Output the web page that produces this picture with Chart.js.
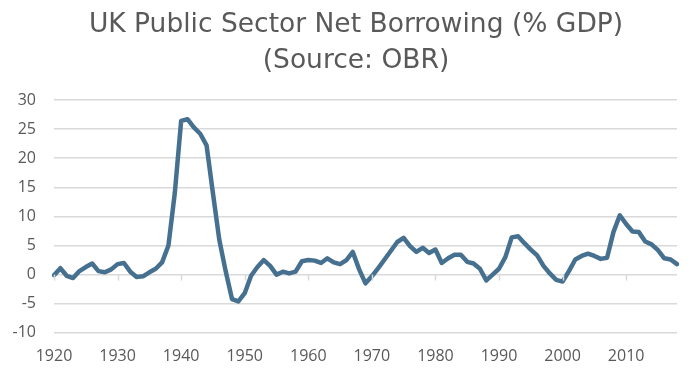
<!DOCTYPE html>
<html>
<head>
<meta charset="utf-8">
<script src="https://cdn.jsdelivr.net/npm/chart.js@4"></script>
<style>
  html, body { margin: 0; padding: 0; background: #ffffff; }
  #wrap { width: 699px; height: 382px; }
</style>
</head>
<body>
<div id="wrap"><canvas id="psnbChart" width="699" height="382"></canvas></div>
<script>
/**chart title lines */
const TITLE = ["UK Public Sector Net Borrowing (% GDP)", "(Source: OBR)"];
/**years on the category axis */
const years = [];
for (let y = 1920; y <= 2018; y++) years.push(String(y));
/**public sector net borrowing, % of GDP */
const borrowing = [
    -0.1, 1.1, -0.2, -0.6, 0.6, 1.3, 1.9, 0.6, 0.4, 0.9,      // 1920s
    1.8, 2.0, 0.5, -0.4, -0.3, 0.4, 1.0, 2.1, 5.0, 14.0,      // 1930s
    26.4, 26.7, 25.3, 24.2, 22.2, 14.0, 6.0, 0.6, -4.2, -4.6, // 1940s
    -3.2, -0.2, 1.3, 2.5, 1.5, 0.0, 0.5, 0.2, 0.5, 2.3,       // 1950s
    2.5, 2.4, 2.0, 2.8, 2.1, 1.8, 2.5, 3.9, 0.9, -1.5,        // 1960s
    -0.3, 1.1, 2.6, 4.1, 5.6, 6.3, 4.9, 3.9, 4.6, 3.7,        // 1970s
    4.3, 2.0, 2.8, 3.4, 3.4, 2.2, 1.9, 1.0, -1.0, 0.0,        // 1980s
    1.0, 3.0, 6.4, 6.6, 5.4, 4.3, 3.3, 1.5, 0.2, -0.9,        // 1990s
    -1.2, 0.6, 2.6, 3.2, 3.6, 3.2, 2.7, 2.9, 7.3, 10.2,       // 2000s
    8.7, 7.4, 7.3, 5.7, 5.2, 4.2, 2.8, 2.6, 1.8               // 2010s
];
/**value axis range */
const Y_MIN = -10;
const Y_MAX = 30;
const Y_STEP = 5;
/**label every n-th year */
const LABEL_EVERY = 10;

const FONT = "'Open Sans', Lato, sans-serif";
const TITLE_FONT = "'DejaVu Sans', 'Open Sans', sans-serif";
const TEXT_COLOR = "#595959";
const GRID_COLOR = "#d9d9d9";
const LINE_COLOR = "#46708f";

/**
 * draw the two title lines; the chart title box can't be moved off-centre,
 * and the original sits a little right of the canvas middle
 */
const titleLines = {
    id: "titleLines",
    afterDraw(chart) {
        const c = chart.ctx;
        c.save();
        c.fillStyle = TEXT_COLOR;
        c.font = "26.5px " + TITLE_FONT;
        c.textAlign = "center";
        c.textBaseline = "middle";
        TITLE.forEach((line, i) => c.fillText(line, 356, 25 + i * 36));
        c.restore();
    },
};

/**
 * draw short tick marks where the category axis crosses zero
 */
const zeroAxisTicks = {
    id: "zeroAxisTicks",
    afterDatasetsDraw(chart) {
        const x = chart.scales.x;
        const y = chart.scales.y;
        const c = chart.ctx;
        const y0 = y.getPixelForValue(0);
        c.save();
        c.strokeStyle = GRID_COLOR;
        c.lineWidth = 1.5;
        years.forEach((year, i) => {
            if (Number(year) % LABEL_EVERY !== 0) return;
            const px = Math.round(x.getPixelForValue(i)) + 0.5;
            c.beginPath();
            c.moveTo(px, y0);
            c.lineTo(px, y0 + 6);
            c.stroke();
        });
        c.restore();
    },
};

const ctx = document.getElementById("psnbChart").getContext("2d");
let psnbChart = new Chart(ctx, {
    type: "line",
    data: {
        labels: years,
        datasets: [
            {
                label: "PSNB % GDP",
                data: borrowing,
                borderColor: LINE_COLOR,
                borderWidth: 4.5,
                pointRadius: 0,
                tension: 0,
                borderJoinStyle: "round",
                borderCapStyle: "round",
                fill: false,
            },
        ],
    },
    options: {
        animation: false,
        responsive: false,
        devicePixelRatio: 1,
        layout: { padding: { left: 0, right: 22, top: 100, bottom: 10 } },
        plugins: {
            legend: { display: false },
            tooltip: { enabled: false },
            title: { display: false },
        },
        scales: {
            x: {
                type: "category",
                offset: false,
                grid: { display: false },
                border: { display: false },
                ticks: {
                    autoSkip: false,
                    maxRotation: 0,
                    color: TEXT_COLOR,
                    font: { family: FONT, size: 16 },
                    padding: 6,
                    callback: function (value, index) {
                        const year = years[index];
                        return Number(year) % LABEL_EVERY === 0 ? year : null;
                    },
                },
            },
            y: {
                min: Y_MIN,
                max: Y_MAX,
                grid: { color: GRID_COLOR, lineWidth: 1.5, drawTicks: false },
                border: { display: false },
                ticks: {
                    stepSize: Y_STEP,
                    color: TEXT_COLOR,
                    font: { family: FONT, size: 16 },
                    padding: 18,
                },
                afterFit(scale) {
                    scale.width = 54;
                },
            },
        },
    },
    plugins: [zeroAxisTicks, titleLines],
});
</script>
</body>
</html>
